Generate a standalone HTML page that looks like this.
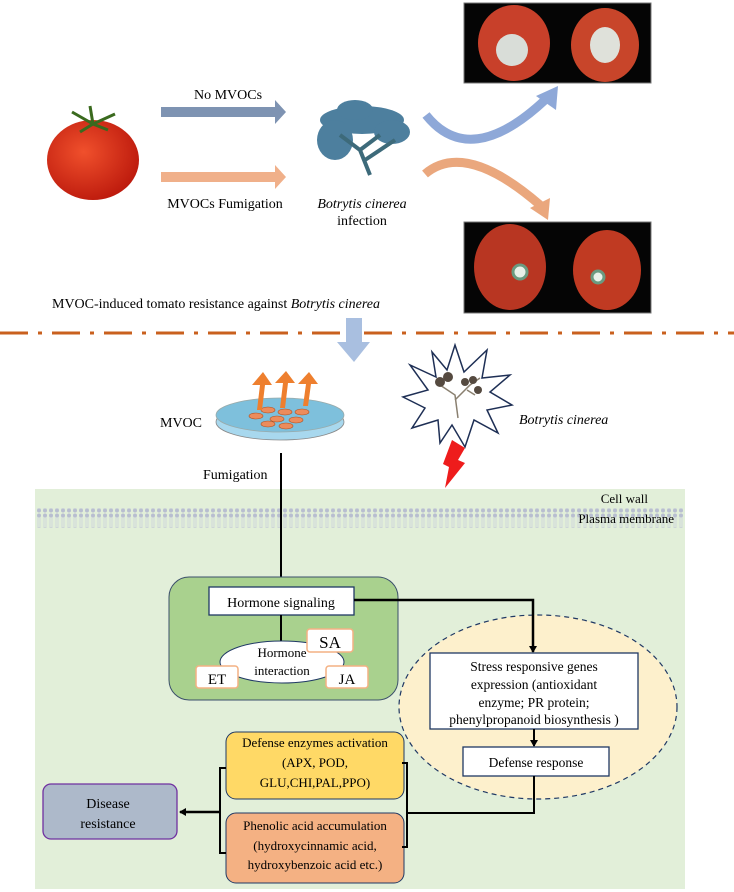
<!DOCTYPE html>
<html><head><meta charset="utf-8"><style>
html,body{margin:0;padding:0;background:#fff;}
svg{display:block;font-family:"Liberation Serif",serif;}
</style></head><body>
<svg width="734" height="892" viewBox="0 0 734 892" xmlns="http://www.w3.org/2000/svg">
<defs>
<marker id="ah" markerWidth="8" markerHeight="8" refX="6" refY="4" orient="auto" markerUnits="userSpaceOnUse"><path d="M0,0 L7,4 L0,8 Z" fill="#000"/></marker>
<radialGradient id="tom" cx="0.4" cy="0.4" r="0.7"><stop offset="0" stop-color="#f0502c"/><stop offset="1" stop-color="#b8150a"/></radialGradient>
<pattern id="mem" width="6" height="19" patternUnits="userSpaceOnUse"><circle cx="3" cy="2.5" r="2" fill="#b8bed0"/><circle cx="3" cy="16.5" r="2" fill="#b8bed0"/><line x1="2" y1="4" x2="2" y2="15" stroke="#c8cdda" stroke-width="0.7"/><line x1="4" y1="4" x2="4" y2="15" stroke="#c8cdda" stroke-width="0.7"/></pattern>
</defs>

<!-- Tomato -->
<ellipse cx="93" cy="160" rx="46" ry="40" fill="url(#tom)"/>
<path d="M93,124 L90,106 M93,124 L72,112 M93,124 L115,114 M93,124 L80,132 M93,124 L108,130" stroke="#3a6a1e" stroke-width="3" fill="none"/>

<!-- arrows -->
<path d="M161,107 L275,107 L275,100 L286,112 L275,124 L275,117 L161,117 Z" fill="#7e93b2"/>
<path d="M161,172 L275,172 L275,165 L286,177 L275,189 L275,182 L161,182 Z" fill="#f0b08a"/>
<text x="228" y="99" font-size="14" text-anchor="middle">No MVOCs</text>
<text x="225" y="208" font-size="14" text-anchor="middle">MVOCs Fumigation</text>
<text x="362" y="208" font-size="14" text-anchor="middle" font-style="italic">Botrytis cinerea</text>
<text x="362" y="225" font-size="14" text-anchor="middle">infection</text>

<!-- fungus -->
<g fill="#4d7f9e">
<ellipse cx="362" cy="120" rx="42" ry="14"/>
<ellipse cx="335" cy="140" rx="18" ry="20"/>
<ellipse cx="392" cy="132" rx="18" ry="12"/>
<ellipse cx="355" cy="110" rx="18" ry="10"/>
</g>
<path d="M370,175 L360,150 L340,135 M360,150 L380,135 M365,160 L395,140" stroke="#3d6a7a" stroke-width="4" fill="none"/>

<!-- photos -->
<rect x="464" y="3" width="187" height="80" fill="#050505" stroke="#777"/>
<ellipse cx="514" cy="43" rx="36" ry="38" fill="#c8402a"/>
<ellipse cx="512" cy="50" rx="16" ry="16" fill="#d9ddd8"/>
<ellipse cx="605" cy="45" rx="34" ry="37" fill="#c8452a"/>
<ellipse cx="605" cy="45" rx="15" ry="18" fill="#dfe1da"/>
<rect x="464" y="222" width="187" height="91" fill="#050505" stroke="#777"/>
<ellipse cx="510" cy="267" rx="36" ry="43" fill="#b83622"/>
<circle cx="520" cy="272" r="7" fill="#e8f0e8" stroke="#6a9a80" stroke-width="3"/>
<ellipse cx="607" cy="270" rx="34" ry="40" fill="#c03a22"/>
<circle cx="598" cy="277" r="6" fill="#e8f0e8" stroke="#6a9a80" stroke-width="3"/>

<!-- curved arrows -->
<path d="M426,115 Q470,170 545,100" stroke="#8ea8d8" stroke-width="9" fill="none"/>
<path d="M536,96 L558,86 L556,110 Z" fill="#8ea8d8"/>
<path d="M425,174 Q465,140 540,205" stroke="#eaa77d" stroke-width="9" fill="none"/>
<path d="M530,208 L548,220 L550,198 Z" fill="#eaa77d"/>

<text x="52" y="308" font-size="14">MVOC-induced tomato resistance against <tspan font-style="italic">Botrytis cinerea</tspan></text>

<!-- dash dot line -->
<line x1="0" y1="333" x2="734" y2="333" stroke="#c9601e" stroke-width="3" stroke-dasharray="28,10,4,10"/>
<!-- down arrow -->
<path d="M346,318 L362,318 L362,342 L370,342 L354,362 L337,342 L346,342 Z" fill="#a9bfe0"/>

<!-- petri dish -->
<ellipse cx="280" cy="422" rx="64" ry="18" fill="#a8d8ee" stroke="#888" stroke-width="0.8"/>
<ellipse cx="280" cy="415" rx="64" ry="17" fill="#7ec0dc" stroke="#9aa" stroke-width="0.8"/>
<g fill="#ec8c5c" stroke="#b05020" stroke-width="0.6">
<ellipse cx="256" cy="416" rx="7" ry="3"/><ellipse cx="268" cy="410" rx="7" ry="3"/><ellipse cx="285" cy="412" rx="7" ry="3"/><ellipse cx="302" cy="412" rx="7" ry="3"/>
<ellipse cx="277" cy="419" rx="7" ry="3"/><ellipse cx="296" cy="420" rx="7" ry="3"/><ellipse cx="268" cy="424" rx="7" ry="3"/><ellipse cx="286" cy="426" rx="7" ry="3"/>
</g>
<g fill="#ee7f2e">
<path d="M257,410 L260,385 L252,385 L263,372 L272,385 L265,385 L262,410Z"/>
<path d="M280,408 L283,383 L275,383 L286,371 L295,383 L288,383 L285,408Z"/>
<path d="M303,406 L306,384 L298,384 L309,372 L318,384 L311,384 L308,406Z"/>
</g>
<text x="160" y="427" font-size="14">MVOC</text>

<!-- starburst -->
<polygon points="455,345 464,372 487,350 482,378 510,375 490,392 512,405 487,410 498,433 474,420 465,447 452,425 440,443 438,420 412,428 425,408 403,397 428,390 410,365 436,377 432,352 447,370" fill="#fff" stroke="#1e2f55" stroke-width="1.5"/>
<path d="M458,418 L455,395 L440,385 M455,400 L470,385 L480,378 M467,390 L475,395" stroke="#8a8070" stroke-width="1.5" fill="none"/>
<g fill="#554a40"><circle cx="440" cy="382" r="5"/><circle cx="448" cy="377" r="5"/><circle cx="465" cy="382" r="4"/><circle cx="473" cy="380" r="4"/><circle cx="478" cy="390" r="4"/></g>
<text x="519" y="424" font-size="14" font-style="italic">Botrytis cinerea</text>
<polygon points="452,440 465,448 458,460 465,463 445,488 449,467 443,464" fill="#ee1c1c"/>

<text x="203" y="479" font-size="14">Fumigation</text>

<!-- cell -->
<rect x="35" y="489" width="650" height="400" fill="#e2efd9"/>
<rect x="35" y="508" width="650" height="20" fill="url(#mem)"/>
<text x="648" y="503" font-size="13" text-anchor="end">Cell wall</text>
<text x="674" y="523" font-size="13" text-anchor="end">Plasma membrane</text>

<line x1="281" y1="453" x2="281" y2="586" stroke="#000" stroke-width="2" marker-end="url(#ah)"/>

<!-- hormone box -->
<rect x="169" y="577" width="229" height="123" rx="20" fill="#a9d18e" stroke="#3b4f6b" stroke-width="1"/>
<rect x="209" y="587" width="145" height="28" fill="#fff" stroke="#1f3864" stroke-width="1.3"/>
<text x="281" y="607" font-size="14" text-anchor="middle">Hormone signaling</text>
<line x1="281" y1="615" x2="281" y2="642" stroke="#000" stroke-width="2"/>
<ellipse cx="282" cy="662" rx="62" ry="21" fill="#fff" stroke="#1f3864" stroke-width="1"/>
<text x="282" y="657" font-size="13" text-anchor="middle">Hormone</text>
<text x="282" y="675" font-size="13" text-anchor="middle">interaction</text>
<rect x="307" y="629" width="46" height="23" rx="3" fill="#fff" stroke="#f4b183" stroke-width="1.5"/>
<text x="330" y="648" font-size="17" text-anchor="middle">SA</text>
<rect x="196" y="666" width="42" height="22" rx="3" fill="#fff" stroke="#f4b183" stroke-width="1.5"/>
<text x="217" y="684" font-size="15" text-anchor="middle">ET</text>
<rect x="326" y="666" width="42" height="22" rx="3" fill="#fff" stroke="#f4b183" stroke-width="1.5"/>
<text x="347" y="684" font-size="15" text-anchor="middle">JA</text>

<!-- dashed ellipse -->
<ellipse cx="538" cy="707" rx="139" ry="92" fill="#fdf0cc" stroke="#1f3864" stroke-width="1.2" stroke-dasharray="5,4"/>
<polyline points="354,600 533,600 533,652" fill="none" stroke="#000" stroke-width="2.5" marker-end="url(#ah)"/>
<rect x="430" y="653" width="208" height="76" fill="#fff" stroke="#1f3864" stroke-width="1.3"/>
<text font-size="13.5" text-anchor="middle"><tspan x="534" y="671">Stress responsive genes</tspan><tspan x="534" y="689">expression (antioxidant</tspan><tspan x="534" y="707">enzyme; PR protein;</tspan><tspan x="534" y="724">phenylpropanoid biosynthesis )</tspan></text>
<line x1="534" y1="729" x2="534" y2="746" stroke="#000" stroke-width="2" marker-end="url(#ah)"/>
<rect x="463" y="747" width="146" height="29" fill="#fff" stroke="#1f3864" stroke-width="1.3"/>
<text x="536" y="767" font-size="13.5" text-anchor="middle">Defense response</text>
<polyline points="534,776 534,813 407,813" fill="none" stroke="#000" stroke-width="2"/>

<!-- defense boxes -->
<rect x="226" y="732" width="178" height="67" rx="10" fill="#ffd966" stroke="#1f3864" stroke-width="1"/>
<text font-size="13" text-anchor="middle"><tspan x="315" y="747">Defense enzymes activation</tspan><tspan x="315" y="767">(APX, POD,</tspan><tspan x="315" y="787">GLU,CHI,PAL,PPO)</tspan></text>
<rect x="226" y="813" width="178" height="70" rx="10" fill="#f4b183" stroke="#1f3864" stroke-width="1"/>
<text font-size="13" text-anchor="middle"><tspan x="315" y="830">Phenolic acid accumulation</tspan><tspan x="315" y="850">(hydroxycinnamic acid,</tspan><tspan x="315" y="869">hydroxybenzoic acid  etc.)</tspan></text>
<polyline points="402,763 407,763 407,847 402,847" fill="none" stroke="#000" stroke-width="2"/>
<polyline points="226,768 220,768 220,853 226,853" fill="none" stroke="#000" stroke-width="2"/>
<line x1="220" y1="812" x2="180" y2="812" stroke="#000" stroke-width="2.5" marker-end="url(#ah)"/>
<rect x="43" y="784" width="134" height="55" rx="8" fill="#adb9ca" stroke="#7030a0" stroke-width="1.3"/>
<text font-size="14" text-anchor="middle"><tspan x="108" y="808">Disease</tspan><tspan x="108" y="828">resistance</tspan></text>
</svg>
</body></html>
